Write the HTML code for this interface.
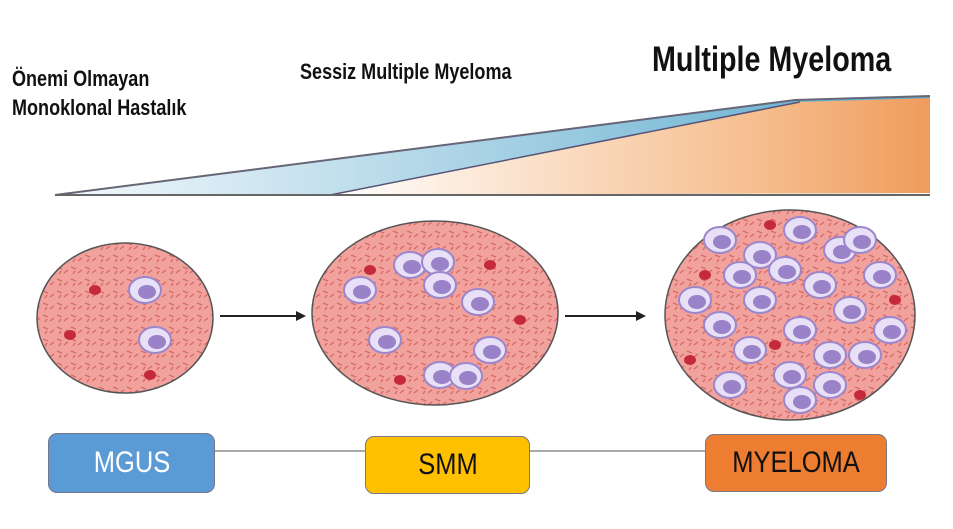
<!DOCTYPE html>
<html><head><style>
body{margin:0;background:#fff;width:953px;height:529px;overflow:hidden;font-family:"Liberation Sans",sans-serif}
.t{position:absolute;font-weight:bold;color:#111;transform:scaleX(.82);transform-origin:left top}
.b{position:absolute;border-radius:9px;border:1px solid #778;box-sizing:border-box;text-align:center;font-size:30px}
.b span{display:inline-block;transform:scaleX(.85)}
</style></head><body>
<svg width="953" height="529" style="position:absolute;left:0;top:0">
<defs>
<linearGradient id="bl" x1="0" x2="1"><stop offset="0" stop-color="#f4f9fc"/><stop offset="1" stop-color="#5aa9cc"/></linearGradient>
<linearGradient id="or" x1="0" x2="1"><stop offset="0" stop-color="#fff"/><stop offset=".7" stop-color="#f6bf90"/><stop offset="1" stop-color="#ef9c5c"/></linearGradient>
<pattern id="tx" width="14" height="12" patternUnits="userSpaceOnUse"><rect width="14" height="12" fill="#f2a29c"/><path d="M1 3l5 2M8 9l4-3M3 10l2-3" stroke="#d86a68" stroke-width="1.4"/></pattern>
<g id="c"><ellipse rx="16" ry="13" fill="#e8e0f6" stroke="#9c86cc" stroke-width="2"/><ellipse cx="2" cy="2" rx="9" ry="7" fill="#9a82c9"/></g>
<g id="r"><ellipse rx="6" ry="5" fill="#c52a3a"/></g>
</defs>
<polygon points="55,195 795,100 930,96 930,193 330,195" fill="url(#bl)"/>
<polygon points="330,195 800,102 930,98 930,193" fill="url(#or)"/>
<polyline points="55,195 795,100 930,96" fill="none" stroke="#667" stroke-width="2"/>
<line x1="330" y1="195" x2="800" y2="102" stroke="#557" stroke-width="1.5"/>
<line x1="55" y1="195" x2="930" y2="195" stroke="#666" stroke-width="2"/>
<ellipse cx="125" cy="318" rx="88" ry="75" fill="url(#tx)" stroke="#555" stroke-width="1.5"/>
<ellipse cx="435" cy="313" rx="123" ry="92" fill="url(#tx)" stroke="#555" stroke-width="1.5"/>
<ellipse cx="790" cy="315" rx="125" ry="105" fill="url(#tx)" stroke="#555" stroke-width="1.5"/>
<use href="#c" x="145" y="290"/><use href="#c" x="155" y="340"/>
<use href="#r" x="95" y="290"/><use href="#r" x="150" y="375"/><use href="#r" x="70" y="335"/>
<use href="#c" x="410" y="265"/><use href="#c" x="438" y="262"/><use href="#c" x="440" y="285"/><use href="#c" x="360" y="290"/><use href="#c" x="478" y="302"/><use href="#c" x="385" y="340"/><use href="#c" x="440" y="375"/><use href="#c" x="466" y="376"/><use href="#c" x="490" y="350"/>
<use href="#r" x="490" y="265"/><use href="#r" x="400" y="380"/><use href="#r" x="520" y="320"/><use href="#r" x="370" y="270"/>
<g>
<use href="#c" x="720" y="240"/><use href="#c" x="760" y="255"/><use href="#c" x="800" y="230"/><use href="#c" x="840" y="250"/><use href="#c" x="860" y="240"/>
<use href="#c" x="740" y="275"/><use href="#c" x="785" y="270"/><use href="#c" x="820" y="285"/><use href="#c" x="880" y="275"/><use href="#c" x="695" y="300"/>
<use href="#c" x="760" y="300"/><use href="#c" x="850" y="310"/><use href="#c" x="890" y="330"/><use href="#c" x="720" y="325"/><use href="#c" x="800" y="330"/>
<use href="#c" x="750" y="350"/><use href="#c" x="830" y="355"/><use href="#c" x="865" y="355"/><use href="#c" x="790" y="375"/><use href="#c" x="730" y="385"/><use href="#c" x="830" y="385"/><use href="#c" x="800" y="400"/>
<use href="#r" x="770" y="225"/><use href="#r" x="705" y="275"/><use href="#r" x="895" y="300"/><use href="#r" x="775" y="345"/><use href="#r" x="690" y="360"/><use href="#r" x="860" y="395"/>
</g>
<line x1="220" y1="316" x2="300" y2="316" stroke="#222" stroke-width="2"/><polygon points="306,316 296,311 296,321" fill="#222"/>
<line x1="565" y1="316" x2="640" y2="316" stroke="#222" stroke-width="2"/><polygon points="646,316 636,311 636,321" fill="#222"/>
<line x1="215" y1="451" x2="365" y2="451" stroke="#aaa" stroke-width="2"/>
<line x1="530" y1="451" x2="705" y2="451" stroke="#aaa" stroke-width="2"/>
</svg>
<div class="t" style="left:12px;top:64px;font-size:22px;line-height:29px">Önemi Olmayan<br>Monoklonal Hastalık</div>
<div class="t" style="left:300px;top:59px;font-size:22px">Sessiz Multiple Myeloma</div>
<div class="t" style="left:652px;top:40px;font-size:35px">Multiple Myeloma</div>
<div class="b" style="left:48px;top:433px;width:167px;height:60px;background:#5b9bd5;color:#fff;line-height:58px"><span>MGUS</span></div>
<div class="b" style="left:365px;top:436px;width:165px;height:58px;background:#ffc000;color:#111;line-height:56px"><span>SMM</span></div>
<div class="b" style="left:705px;top:434px;width:182px;height:58px;background:#ed7d31;color:#111;line-height:56px"><span>MYELOMA</span></div>
</body></html>
